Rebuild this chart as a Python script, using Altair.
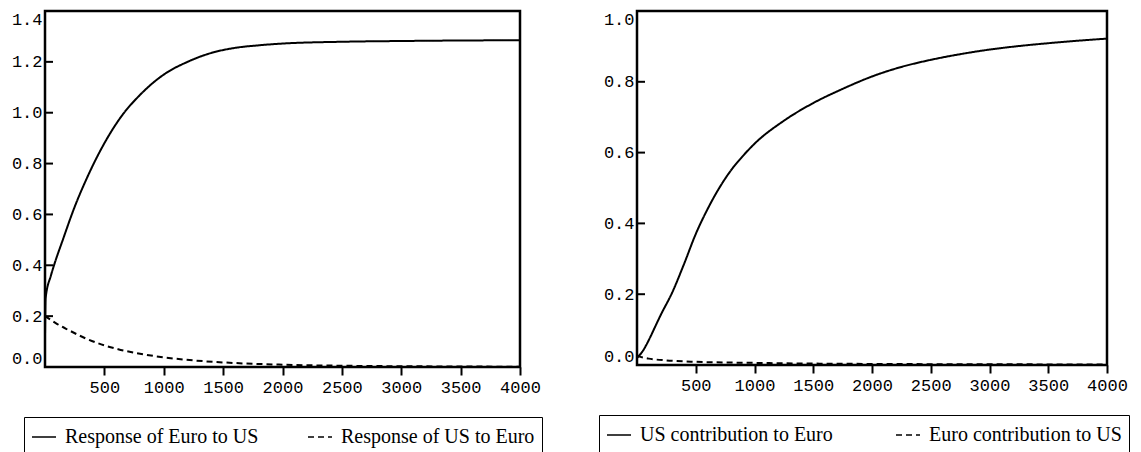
import altair as alt
import pandas as pd

# ---- Left panel data (Response) ----
left_solid_t = [0, 5, 50, 76, 150, 250, 350, 500, 650, 800, 1000, 1200, 1400, 1600, 1800, 2000, 2500, 3000, 3500, 4000]
left_solid_v = [0.12, 0.27, 0.36, 0.40, 0.50, 0.63, 0.74, 0.88, 0.99, 1.07, 1.15, 1.20, 1.235, 1.255, 1.265, 1.272, 1.279, 1.282, 1.284, 1.285]

left_dash_t = [0, 50, 100, 200, 330, 500, 616, 800, 1000, 1250, 1500, 2000, 2500, 3000, 3500, 4000]
left_dash_v = [0.20, 0.185, 0.17, 0.145, 0.115, 0.085, 0.07, 0.052, 0.038, 0.026, 0.018, 0.009, 0.005, 0.003, 0.002, 0.001]

left_series = ["Response of Euro to US", "Response of US to Euro"]

# ---- Right panel data (Contribution) ----
right_solid_t = [0, 50, 100, 150, 200, 300, 400, 500, 600, 700, 800, 900, 1000, 1250, 1500, 1750, 2000, 2250, 2500, 2750, 3000, 3250, 3500, 3750, 4000]
right_solid_v = [0.02, 0.04, 0.07, 0.105, 0.14, 0.205, 0.285, 0.37, 0.44, 0.50, 0.55, 0.59, 0.625, 0.69, 0.74, 0.78, 0.815, 0.842, 0.862, 0.878, 0.891, 0.901, 0.909, 0.916, 0.922]

right_dash_t = [0, 100, 250, 500, 1000, 1500, 2000, 3000, 4000]
right_dash_v = [0.025, 0.018, 0.013, 0.009, 0.006, 0.004, 0.003, 0.002, 0.0015]

right_series = ["US contribution to Euro", "Euro contribution to US"]

x_ticks = [500, 1000, 1500, 2000, 2500, 3000, 3500, 4000]
left_y_ticks = [0.0, 0.2, 0.4, 0.6, 0.8, 1.0, 1.2, 1.4]
right_y_ticks = [0.0, 0.2, 0.4, 0.6, 0.8, 1.0]

MONO = "Liberation Mono"
SERIF = "Liberation Serif"


def long_df(series, t1, v1, t2, v2):
    rows = [{"series": series[0], "t": t, "v": v} for t, v in zip(t1, v1)]
    rows += [{"series": series[1], "t": t, "v": v} for t, v in zip(t2, v2)]
    return pd.DataFrame(rows)


def panel(df, series, ymax, yticks, w, h, lx, ly, colpad):
    baseline = {
        "condition": [
            {"test": "datum.value == 0", "value": "bottom"},
            {"test": f"datum.value == {ymax}", "value": "top"},
        ],
        "value": "middle",
    }
    yscale = alt.Scale(domain=[0, ymax], nice=False)
    yaxis = alt.Axis(values=yticks, format=".1f", ticks=False, tickSize=0,
                     domain=False, grid=False, labelPadding=3,
                     labelFont=MONO, labelFontSize=17, labelColor="black",
                     labelBaseline=baseline)
    lines = alt.Chart(df).mark_line(
        color="black", strokeWidth=2, interpolate="monotone"
    ).encode(
        x=alt.X("t:Q", title=None,
                scale=alt.Scale(domain=[0, 4000], nice=False, zero=False),
                axis=alt.Axis(values=x_ticks, format="d", tickSize=8, domain=False,
                              grid=False, labelFlush=False, labelPadding=4,
                              labelFont=MONO, labelFontSize=17, labelColor="black",
                              tickColor="black", tickWidth=2)),
        y=alt.Y("v:Q", title=None, scale=yscale, axis=yaxis),
        strokeDash=alt.StrokeDash(
            "series:N",
            scale=alt.Scale(domain=series, range=[[1, 0], [6, 4]]),
            legend=alt.Legend(orient="none", legendX=lx, legendY=ly, direction="horizontal",
                              title=None, strokeColor="black", padding=7,
                              columnPadding=colpad, symbolType="stroke", symbolSize=576,
                              symbolStrokeWidth=1.5, symbolStrokeColor="black",
                              labelFont=SERIF, labelFontSize=20, labelColor="black",
                              labelOffset=8, labelLimit=400),
        ),
    )
    # inward y-axis tick marks at the interior tick values
    tick_df = pd.DataFrame({"v": yticks[1:-1]})
    ticks = alt.Chart(tick_df).mark_rule(color="black", strokeWidth=2).encode(
        y=alt.Y("v:Q", title=None, scale=yscale, axis=yaxis),
        x=alt.value(0),
        x2=alt.value(8),
    )
    return alt.layer(lines, ticks).properties(width=w, height=h)


left = panel(long_df(left_series, left_solid_t, left_solid_v, left_dash_t, left_dash_v),
             left_series, 1.4, left_y_ticks, 475, 356, -21, 406, 46)
right = panel(long_df(right_series, right_solid_t, right_solid_v, right_dash_t, right_dash_v),
              right_series, 1.0, right_y_ticks, 470, 354, -38, 404, 60)

chart = alt.hconcat(left, right, spacing=53).resolve_scale(
    x="independent", y="independent", strokeDash="independent"
).resolve_legend(strokeDash="independent").properties(
    padding={"left": 2, "top": 0, "right": 0, "bottom": 0},
    background="white",
).configure_view(stroke="black", strokeWidth=2.5)

chart.save("out.html", embed_options={"renderer": "svg", "actions": False})
